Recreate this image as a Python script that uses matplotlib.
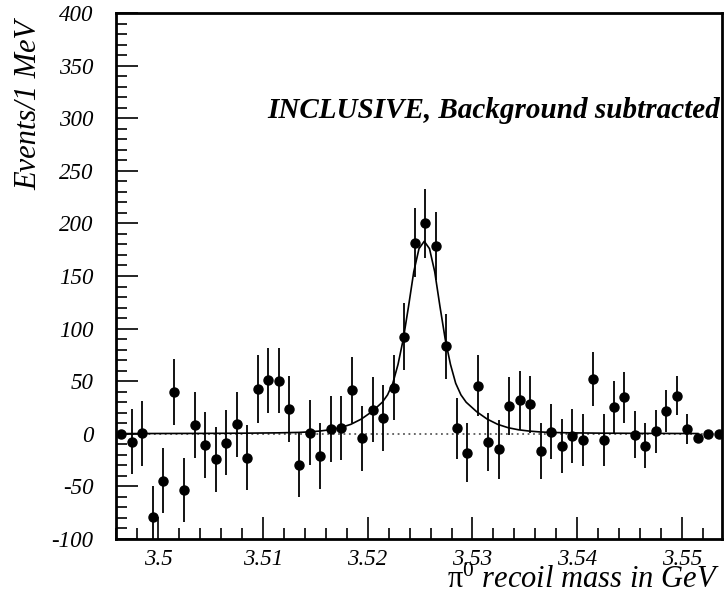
import matplotlib
matplotlib.use("Agg")
import matplotlib.pyplot as plt
from matplotlib.ticker import MultipleLocator, FixedLocator

plt.rcParams.update({
    "font.family": "Liberation Serif",
    "font.style": "italic",
    "mathtext.fontset": "custom",
    "mathtext.rm": "Liberation Serif:style=normal",
    "mathtext.it": "Liberation Serif:style=italic",
    "axes.unicode_minus": False,
})

# ── data: pi0 recoil mass spectrum, 1 MeV bins, background subtracted ──
MASS = [3.4965, 3.4975, 3.4985, 3.4995, 3.5005, 3.5015, 3.5025, 3.5035, 3.5045, 3.5055,
        3.5065, 3.5075, 3.5085, 3.5095, 3.5105, 3.5115, 3.5125, 3.5135, 3.5145, 3.5155,
        3.5165, 3.5175, 3.5185, 3.5195, 3.5205, 3.5215, 3.5225, 3.5235, 3.5245, 3.5255,
        3.5265, 3.5275, 3.5285, 3.5295, 3.5305, 3.5315, 3.5325, 3.5335, 3.5345, 3.5355,
        3.5365, 3.5375, 3.5385, 3.5395, 3.5405, 3.5415, 3.5425, 3.5435, 3.5445, 3.5455,
        3.5465, 3.5475, 3.5485, 3.5495, 3.5505, 3.5515, 3.5525, 3.5535]
EVENTS = [0, -7.5, 0.5, -79, -44.5, 39.7, -53.4, 8.4, -10.6, -24.3,
          -8.4, 9, -22.7, 42.6, 51, 50.5, 23.6, -29.6, 1, -21,
          4.6, 5.8, 42, -4.3, 23, 15, 44, 92.3, 181.7, 200,
          178.5, 83, 5.2, -18, 45.7, -7.8, -14.8, 26.7, 31.8, 28,
          -16.3, 2, -11.6, -2, -5.9, 52.4, -5.9, 25.8, 34.7, -0.8,
          -11.3, 2.3, 21.7, 36.2, 4.6, -4.3, -0.2, -0.2]
ERRORS = [0, 30.7, 31, 29.5, 31, 31, 30, 31.7, 31, 31,
          31, 31, 31, 32, 31, 31, 31.7, 30.5, 31, 31,
          31.5, 30.5, 31.4, 31, 31, 31, 31, 31.7, 32.6, 32.6,
          32, 31, 28.8, 28, 29, 28, 28, 27.6, 28, 27.4,
          26.6, 26.3, 25.5, 25.8, 25, 25.7, 24.6, 24.6, 24, 22.5,
          21.5, 20.6, 19.8, 18.4, 14, 0, 0, 0]

# fitted signal shape
FIT_MASS = [3.4965, 3.5004, 3.5044, 3.5084, 3.5114, 3.5134, 3.5144, 3.5154, 3.5164, 3.5174,
            3.5184, 3.5194, 3.5204, 3.5214, 3.5219, 3.5224, 3.5229, 3.5234, 3.5239, 3.5244,
            3.5249, 3.5254, 3.5259, 3.5264, 3.5269, 3.5274, 3.5279, 3.5284, 3.5289, 3.5294,
            3.5304, 3.5314, 3.5324, 3.5334, 3.5344, 3.5354, 3.5364, 3.5374, 3.5394, 3.5424,
            3.5464, 3.5515]
FIT_EVENTS = [0.2, 0.3, 0.4, 0.6, 0.9, 1.3, 1.8, 2.6, 3.8, 5.8,
              9, 14, 21, 30, 37, 48, 66, 90, 121, 154,
              176, 183, 176, 154, 121, 90, 66, 48, 37, 30,
              21, 14, 9, 5.8, 3.8, 2.6, 1.8, 1.3, 0.9, 0.6,
              0.4, 0.25]

X_TICKS = [3.50, 3.51, 3.52, 3.53, 3.54, 3.55]
X_LABELS = ["3.5", "3.51", "3.52", "3.53", "3.54", "3.55"]
Y_TICKS = [-100, -50, 0, 50, 100, 150, 200, 250, 300, 350, 400]

fig = plt.figure(figsize=(7.28, 6.12), dpi=100)
ax = fig.add_axes([116 / 728, 1 - 539 / 612, 606 / 728, 526 / 612])

ax.axhline(0, color="0.35", ls=(0, (1, 2)), lw=1.3, zorder=1)
ax.plot(FIT_MASS, FIT_EVENTS, color="black", lw=1.2, zorder=2)
ax.errorbar(MASS, EVENTS, yerr=ERRORS, fmt="o", color="black", ms=6.5,
            elinewidth=1.3, capsize=0, zorder=3)

ax.set_xlim(3.496, 3.5538)
ax.set_ylim(-100, 400)

ax.xaxis.set_major_locator(FixedLocator(X_TICKS))
ax.set_xticklabels(X_LABELS)
ax.xaxis.set_minor_locator(MultipleLocator(0.002))
ax.yaxis.set_major_locator(FixedLocator(Y_TICKS))
ax.yaxis.set_minor_locator(MultipleLocator(10))

ax.tick_params(which="both", direction="in", top=False, right=False,
               labelsize=16.5, width=1.2)
ax.tick_params(which="major", length=16)
ax.tick_params(which="minor", length=8)
ax.tick_params(axis="x", pad=7)
ax.tick_params(axis="y", pad=16)
for s in ax.spines.values():
    s.set_linewidth(2)

fig.text(29 / 728, 1 - 105 / 612, "Events/1 MeV", rotation=90, fontsize=22,
         ha="center", va="center")
fig.text(720 / 728, 1 - 588 / 612, r"$\mathrm{\pi}^{\mathit{0}}$ recoil mass in GeV",
         fontsize=22, ha="right", va="baseline")
ax.text(0.997, 1 - (118 - 13) / 526, "INCLUSIVE, Background subtracted",
        transform=ax.transAxes, fontsize=21, fontweight="bold",
        ha="right", va="baseline")

fig.savefig("out.png", dpi=100)
